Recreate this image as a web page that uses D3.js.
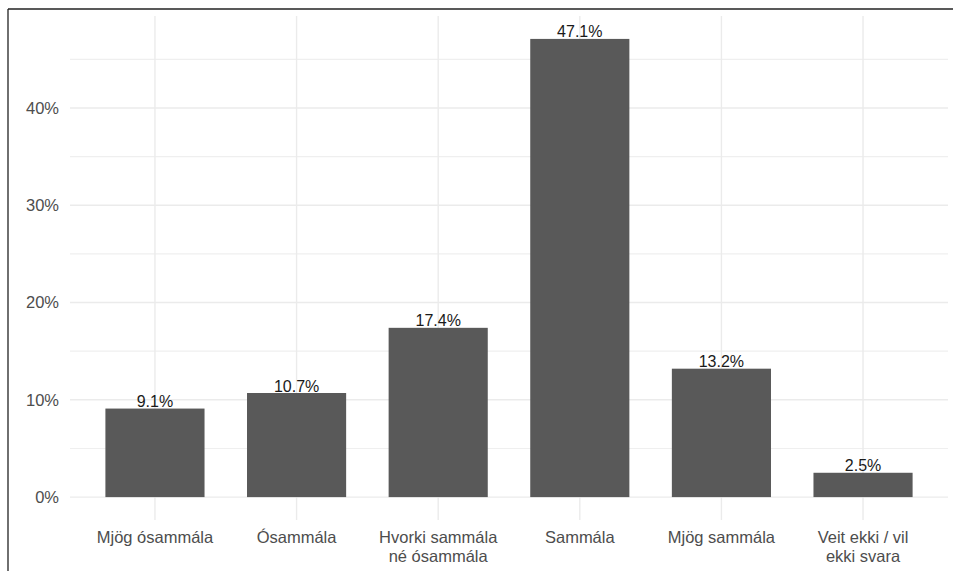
<!DOCTYPE html>
<html>
<head>
<meta charset="utf-8">
<script src="https://cdn.jsdelivr.net/npm/d3@7"></script>
<style>
  body { margin: 0; background: #fff; }
  svg { display: block; font-family: "Liberation Sans", Arial, sans-serif; }
</style>
</head>
<body>
<div id="chart"></div>
<script>
// answers and shares (%)
const categories = ["Mjög ósammála", "Ósammála", "Hvorki sammála\nné ósammála", "Sammála", "Mjög sammála", "Veit ekki / vil\nekki svara"];
const shares = [9.1, 10.7, 17.4, 47.1, 13.2, 2.5];
const yTicks = [0, 10, 20, 30, 40];
const yMinor = [5, 15, 25, 35, 45];

const W = 953, H = 571;
const panel = {left: 70, right: 948, top: 16, bottom: 520};

const svg = d3.select("#chart").append("svg")
  .attr("width", W).attr("height", H);

// frame around the screenshot
svg.append("line").attr("x1", 8).attr("x2", W).attr("y1", 9).attr("y2", 9)
  .attr("stroke", "#222").attr("stroke-width", 1.3);
svg.append("line").attr("x1", 8).attr("x2", 8).attr("y1", 9).attr("y2", H)
  .attr("stroke", "#222").attr("stroke-width", 1.3);

const maxV = d3.max(shares);
const y = d3.scaleLinear()
  .domain([-0.05 * maxV, maxV * 1.05])
  .range([panel.bottom, panel.top]);

// ggplot-like discrete expansion: 0.6 of a step on each side
const x = d3.scaleBand()
  .domain(categories)
  .range([panel.left, panel.right])
  .paddingInner(0.3)
  .paddingOuter(0.25);

const centers = categories.map(c => x(c) + x.bandwidth() / 2);

// minor grid
svg.append("g").selectAll("line").data(yMinor).join("line")
  .attr("x1", panel.left).attr("x2", panel.right)
  .attr("y1", d => y(d)).attr("y2", d => y(d))
  .attr("stroke", "#efefef").attr("stroke-width", 1.1);

// major grid
svg.append("g").selectAll("line").data(yTicks).join("line")
  .attr("x1", panel.left).attr("x2", panel.right)
  .attr("y1", d => y(d)).attr("y2", d => y(d))
  .attr("stroke", "#ebebeb").attr("stroke-width", 1.4);

svg.append("g").selectAll("line").data(categories).join("line")
  .attr("x1", d => x(d) + x.bandwidth() / 2).attr("x2", d => x(d) + x.bandwidth() / 2)
  .attr("y1", panel.top).attr("y2", panel.bottom)
  .attr("stroke", "#ebebeb").attr("stroke-width", 1.4);

// bars
svg.append("g").selectAll("rect").data(shares).join("rect")
  .attr("x", (d, i) => x(categories[i]))
  .attr("width", x.bandwidth())
  .attr("y", d => y(d))
  .attr("height", d => y(0) - y(d))
  .attr("fill", "#595959");

// value labels
svg.append("g").selectAll("text").data(shares).join("text")
  .attr("x", (d, i) => centers[i])
  .attr("y", d => y(d) - 1.5)
  .attr("text-anchor", "middle")
  .attr("font-size", 16)
  .attr("fill", "#1a1a1a")
  .text(d => d.toFixed(1) + "%");

// y axis labels
svg.append("g").selectAll("text").data(yTicks).join("text")
  .attr("x", 59)
  .attr("y", d => y(d))
  .attr("dy", "0.36em")
  .attr("text-anchor", "end")
  .attr("font-size", 16.5)
  .attr("fill", "#4d4d4d")
  .text(d => d + "%");

// x axis labels
const xl = svg.append("g").selectAll("text").data(categories).join("text")
  .attr("x", (d, i) => centers[i])
  .attr("y", 543)
  .attr("text-anchor", "middle")
  .attr("font-size", 16.5)
  .attr("fill", "#4d4d4d");
xl.each(function(d, i) {
  d.split("\n").forEach((line, k) => {
    d3.select(this).append("tspan")
      .attr("x", centers[i])
      .attr("dy", k === 0 ? 0 : 18.5)
      .text(line);
  });
});
</script>
</body>
</html>
